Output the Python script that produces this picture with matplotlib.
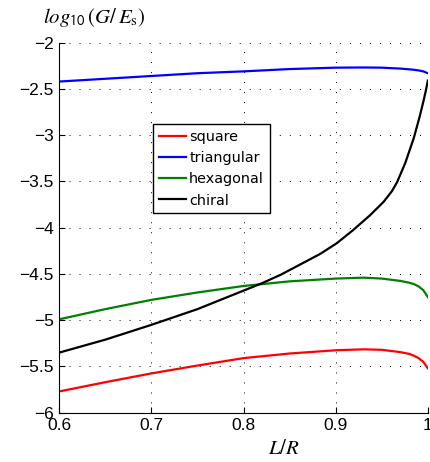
import numpy as np
import matplotlib
matplotlib.use('Agg')
import matplotlib.pyplot as plt

# L/R sample positions and log10(G/Es) for each lattice type
ratio = [0.6, 0.65, 0.7, 0.75, 0.8, 0.85, 0.9, 0.93, 0.95, 0.97, 0.98, 0.985, 0.99, 0.995, 1.0]
square = [-5.77, -5.67, -5.575, -5.49, -5.41, -5.36, -5.325, -5.315, -5.32, -5.345, -5.365,
          -5.385, -5.41, -5.45, -5.52]
triangular = [-2.42, -2.39, -2.36, -2.33, -2.31, -2.285, -2.27, -2.268, -2.27, -2.28, -2.288,
              -2.293, -2.30, -2.31, -2.33]
hexagonal = [-4.99, -4.88, -4.78, -4.70, -4.63, -4.58, -4.55, -4.54, -4.55, -4.575, -4.595,
             -4.61, -4.635, -4.675, -4.75]

# chiral curve climbs steeply near L/R = 1, so it gets its own sample points
ratio_chiral = [0.6, 0.65, 0.7, 0.75, 0.8, 0.82, 0.84, 0.861, 0.883, 0.901, 0.919, 0.9375,
                0.952, 0.961, 0.9665, 0.9755, 0.9846, 0.9911, 0.9954, 0.998, 1.0]
chiral = [-5.35, -5.21, -5.05, -4.88, -4.68, -4.60, -4.51, -4.40, -4.284, -4.169, -4.025,
          -3.863, -3.72, -3.605, -3.51, -3.30, -3.035, -2.80, -2.625, -2.51, -2.41]

plt.rcParams['mathtext.fontset'] = 'stix'

fig = plt.figure(figsize=(4.3, 4.62), dpi=100)
ax = fig.add_axes([0.138, 0.1067, 0.857, 0.8009])

ax.plot(ratio, square, color='#ff0000', lw=1.6, label='square')
ax.plot(ratio, triangular, color='#0000ff', lw=1.6, label='triangular')
ax.plot(ratio, hexagonal, color='#008000', lw=1.6, label='hexagonal')
ax.plot(ratio_chiral, chiral, color='black', lw=1.6, label='chiral')

ax.set_xlim(0.6, 1.0)
ax.set_ylim(-6, -2)
ax.set_xticks([0.6, 0.7, 0.8, 0.9, 1.0])
ax.set_xticklabels(['0.6', '0.7', '0.8', '0.9', '1'])
ax.set_yticks(np.arange(-6, -1.9, 0.5))
ax.set_yticklabels(['\u22126', '\u22125.5', '\u22125', '\u22124.5', '\u22124',
                    '\u22123.5', '\u22123', '\u22122.5', '\u22122'])

ax.grid(True, color='black', lw=0.7, linestyle=(0, (1, 9.3)))
ax.set_axisbelow(True)
ax.spines['top'].set_visible(False)
ax.spines['right'].set_visible(False)
ax.tick_params(direction='in', length=4, width=0.8, pad=4,
               labelsize=12.5, labelfontfamily='Liberation Sans')

leg = ax.legend(loc='upper left', bbox_to_anchor=(0.2545, 0.780), fancybox=False,
                framealpha=1, edgecolor='black', handlelength=1.9, handletextpad=0.2,
                borderpad=0.4, labelspacing=0.5, borderaxespad=0,
                prop={'family': 'DejaVu Sans', 'size': 10.4})
leg.get_frame().set_linewidth(1.0)

fig.text(0.1, 0.95, r'$log_{\mathsf{10}}\,(G/\,E_{\mathrm{s}})$', fontsize=15,
         ha='left', va='baseline')
fig.text(0.66, 0.03, r'$L/R$', fontsize=15, ha='center', va='center')

fig.savefig('out.png', dpi=100)
